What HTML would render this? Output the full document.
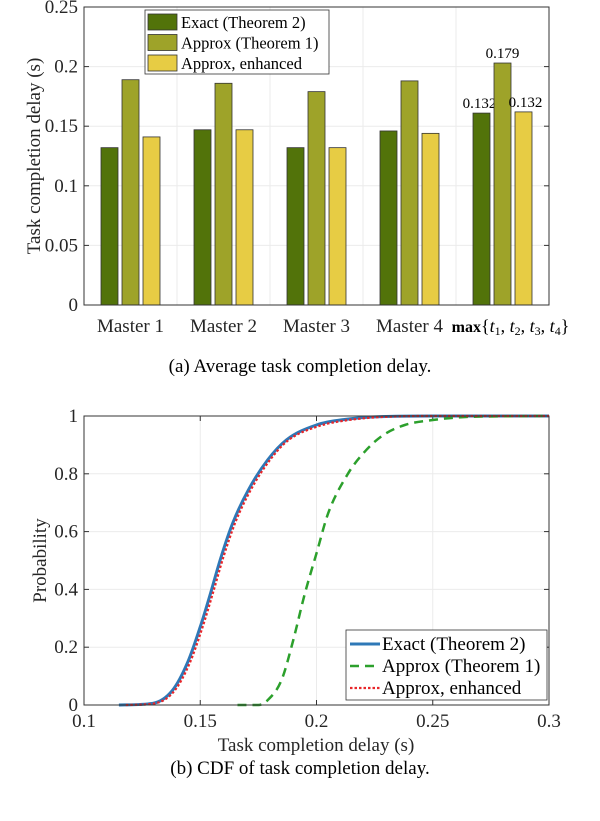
<!DOCTYPE html>
<html><head><meta charset="utf-8"><style>
body{margin:0;background:#fff;width:600px;height:816px;overflow:hidden}
svg{font-family:"Liberation Serif",serif}
</style></head><body>
<svg id="fig" width="600" height="816" viewBox="0 0 600 816" xmlns="http://www.w3.org/2000/svg"></svg>
<script>
const categories=["Master 1","Master 2","Master 3","Master 4","max"];
const exactVals=[0.132,0.147,0.132,0.146,0.161];
const approxVals=[0.189,0.186,0.179,0.188,0.203];
const enhVals=[0.141,0.147,0.132,0.144,0.162];
const maxLabels=["0.132","0.179","0.132"];
const barTicks=[0,0.05,0.1,0.15,0.2,0.25];
const barTickLabels=["0","0.05","0.1","0.15","0.2","0.25"];
const cdfExactX=[0.115,0.1296,0.138,0.1444,0.15,0.1544,0.159,0.164,0.1707,0.179,0.187,0.2,0.212,0.228,0.25,0.3];
const cdfExactY=[0,0.006,0.05,0.144,0.27,0.386,0.513,0.63,0.744,0.848,0.917,0.969,0.988,0.998,1,1];
const cdfEnhX=[0.118,0.1306,0.139,0.1454,0.151,0.1554,0.16,0.165,0.1717,0.18,0.188,0.201,0.213,0.229,0.25,0.3];
const cdfEnhY=[0,0.006,0.05,0.144,0.27,0.386,0.513,0.63,0.744,0.848,0.917,0.965,0.985,0.997,1,1];
const cdfApproxX=[0.166,0.175,0.179,0.185,0.19,0.195,0.2,0.205,0.2135,0.22,0.228,0.238,0.25,0.261,0.28,0.3];
const cdfApproxY=[0,0,0.017,0.087,0.225,0.386,0.525,0.663,0.8,0.87,0.93,0.969,0.986,0.995,0.999,1];
const cdfXTicks=[0.1,0.15,0.2,0.25,0.3];
const cdfXTickLabels=["0.1","0.15","0.2","0.25","0.3"];
const cdfYTicks=[0,0.2,0.4,0.6,0.8,1];
const cdfYTickLabels=["0","0.2","0.4","0.6","0.8","1"];

const NS="http://www.w3.org/2000/svg";
const svg=document.getElementById('fig');
function mk(tag,attrs,parent,text){const e=document.createElementNS(NS,tag);for(const k in attrs)e.setAttribute(k,attrs[k]);if(text!==undefined)e.textContent=text;(parent||svg).appendChild(e);return e;}
const FS=19;

// ---- Top bar chart
const L=84,R=549,T=7,B=305;
const yB=v=>B-(v/0.25)*(B-T);
const gw=(R-L)/categories.length;
const gx=i=>L+gw*(i+0.5);
const gTop=mk('g',{});


mk('rect',{x:L,y:T,width:R-L,height:B-T,fill:'#fff'},gTop);
barTicks.forEach((t,i)=>{
  const y=yB(t);
  if(i>0&&i<barTicks.length-1){const g=mk('line',{x1:L,x2:R,y1:y,y2:y,stroke:'#ebebeb','stroke-width':1},gTop);}
  mk('line',{x1:L,x2:L+5,y1:y,y2:y,stroke:'#333'},gTop);
  mk('line',{x1:R,x2:R-5,y1:y,y2:y,stroke:'#333'},gTop);
  const tl=mk('text',{x:L-6,y:y+6,'text-anchor':'end','font-size':FS,fill:'#262626'},gTop,barTickLabels[i]);
  
});
for(let i=1;i<categories.length;i++){const x=L+gw*i;const g=mk('line',{x1:x,x2:x,y1:T,y2:B,stroke:'#ebebeb'},gTop);}
const series=[[exactVals,'#52730a','exact'],[approxVals,'#9ea329','approx'],[enhVals,'#e7cc44','enhanced']];
const bw=17,off=21;
categories.forEach((c,i)=>{
  series.forEach((s,j)=>{
    const x=gx(i)+(j-1)*off-bw/2;const y=yB(s[0][i]);
    const r=mk('rect',{x:x,y:y,width:bw,height:B-y,fill:s[1],stroke:'#333','stroke-width':0.8},gTop);
    
    
    if(i===categories.length-1){
      const t=mk('text',{x:gx(i)+(j-1)*off+(j-1)*2,y:y-5,'text-anchor':'middle','font-size':15,fill:'#000'},gTop,maxLabels[j]);
      
    }
  });
  if(i<categories.length-1){
    const t=mk('text',{x:gx(i),y:332,'text-anchor':'middle','font-size':FS,fill:'#262626'},gTop,c);
    
  } else {
    const t=mk('text',{x:gx(i)+8,y:332,'text-anchor':'middle','font-size':18,fill:'#000'},gTop);
    
    t.innerHTML='<tspan font-weight="bold" font-size="16">max</tspan>{<tspan font-style="italic">t</tspan><tspan font-size="12" dy="3">1</tspan><tspan dy="-3">, </tspan><tspan font-style="italic">t</tspan><tspan font-size="12" dy="3">2</tspan><tspan dy="-3">, </tspan><tspan font-style="italic">t</tspan><tspan font-size="12" dy="3">3</tspan><tspan dy="-3">, </tspan><tspan font-style="italic">t</tspan><tspan font-size="12" dy="3">4</tspan><tspan dy="-3">}</tspan>';
  }
});
mk('rect',{x:L,y:T,width:R-L,height:B-T,fill:'none',stroke:'#333','stroke-width':1},gTop);
const yt=mk('text',{x:40,y:(T+B)/2,'text-anchor':'middle','font-size':FS,fill:'#262626',transform:`rotate(-90 40 ${(T+B)/2})`},gTop,'Task completion delay (s)');

const lg=mk('g',{},gTop);
mk('rect',{x:145,y:10,width:184,height:64,fill:'#fff',stroke:'#333','stroke-width':0.8},lg);
const ln=['Exact (Theorem 2)','Approx (Theorem 1)','Approx, enhanced'];
series.forEach((s,j)=>{
  const y=14+j*20.5;
  const e=mk('g',{},lg);
  mk('rect',{x:148,y:y,width:29,height:16,fill:s[1],stroke:'#333','stroke-width':0.8},e);
  mk('text',{x:181,y:y+14,'font-size':16.5,fill:'#000'},e,ln[j]);
});
const ca=mk('text',{x:300,y:372,'text-anchor':'middle','font-size':FS,fill:'#000'},svg,'(a)  Average task completion delay.');


// ---- Bottom CDF chart
const L2=84,R2=549,T2=416,B2=705;
const xC=v=>L2+(v-0.1)/0.2*(R2-L2);
const yC=v=>B2-v*(B2-T2);
const bot=mk('g',{});
cdfXTicks.forEach((t,i)=>{
  const x=xC(t);
  if(i>0&&i<cdfXTicks.length-1){const g=mk('line',{x1:x,x2:x,y1:T2,y2:B2,stroke:'#ebebeb'},bot);}
  mk('line',{x1:x,x2:x,y1:B2,y2:B2-5,stroke:'#333'},bot);
  mk('line',{x1:x,x2:x,y1:T2,y2:T2+5,stroke:'#333'},bot);
  const tl=mk('text',{x:x,y:727,'text-anchor':'middle','font-size':FS,fill:'#262626'},bot,cdfXTickLabels[i]);
  
});
cdfYTicks.forEach((t,i)=>{
  const y=yC(t);
  if(i>0&&i<cdfYTicks.length-1){const g=mk('line',{x1:L2,x2:R2,y1:y,y2:y,stroke:'#ebebeb'},bot);}
  mk('line',{x1:L2,x2:L2+5,y1:y,y2:y,stroke:'#333'},bot);
  mk('line',{x1:R2,x2:R2-5,y1:y,y2:y,stroke:'#333'},bot);
  const tl=mk('text',{x:L2-6,y:y+6,'text-anchor':'end','font-size':FS,fill:'#262626'},bot,cdfYTickLabels[i]);
  
});
function monoPath(xs,ys){
  const n=xs.length,d=[],m=new Array(n);
  for(let i=0;i<n-1;i++)d.push((ys[i+1]-ys[i])/(xs[i+1]-xs[i]));
  m[0]=d[0];m[n-1]=d[n-2];
  for(let i=1;i<n-1;i++)m[i]=(d[i-1]*d[i]<=0)?0:(d[i-1]+d[i])/2;
  for(let i=0;i<n-1;i++){if(d[i]===0){m[i]=0;m[i+1]=0;continue;}const a=m[i]/d[i],b=m[i+1]/d[i],s=a*a+b*b;if(s>9){const t=3/Math.sqrt(s);m[i]=t*a*d[i];m[i+1]=t*b*d[i];}}
  let p='M'+xs[0].toFixed(1)+' '+ys[0].toFixed(1);
  for(let i=0;i<n-1;i++){const h=(xs[i+1]-xs[i])/3;p+=` C${(xs[i]+h).toFixed(1)} ${(ys[i]+m[i]*h).toFixed(1)} ${(xs[i+1]-h).toFixed(1)} ${(ys[i+1]-m[i+1]*h).toFixed(1)} ${xs[i+1].toFixed(1)} ${ys[i+1].toFixed(1)}`;}
  return p;
}
function curve(xs,ys,col,w,dash,name){
  const d=monoPath(xs.map(xC),ys.map(yC));
  const p=mk('path',{d:d,fill:'none',stroke:col,'stroke-width':w,'stroke-dasharray':dash,'stroke-linejoin':'round'},bot);
  
}
curve(cdfExactX,cdfExactY,'#2e78b7',3,'none','line-exact');
curve(cdfApproxX,cdfApproxY,'#2ca02c',2.5,'9 6','line-approx');
curve(cdfEnhX,cdfEnhY,'#e8262a',2.2,'2.5 2','line-enhanced');
mk('rect',{x:L2,y:T2,width:R2-L2,height:B2-T2,fill:'none',stroke:'#333'},bot);
const yt2=mk('text',{x:46,y:(T2+B2)/2,'text-anchor':'middle','font-size':FS,fill:'#262626',transform:`rotate(-90 46 ${(T2+B2)/2})`},bot,'Probability');

const xt2=mk('text',{x:316,y:751,'text-anchor':'middle','font-size':FS,fill:'#262626'},bot,'Task completion delay (s)');

const lg2=mk('g',{},bot);
mk('rect',{x:346,y:630,width:201,height:70,fill:'#fff',stroke:'#333','stroke-width':0.8},lg2);
const l2=[['#2e78b7',3,'none'],['#2ca02c',2.5,'9 6'],['#e8262a',2.2,'2.5 2']];
l2.forEach((s,j)=>{
  const y=644+j*22;
  const e=mk('g',{},lg2);
  mk('line',{x1:350,x2:380,y1:y,y2:y,stroke:s[0],'stroke-width':s[1],'stroke-dasharray':s[2]},e);
  mk('text',{x:382,y:y+6,'font-size':FS,fill:'#000'},e,ln[j]);
});
const cb=mk('text',{x:300,y:774,'text-anchor':'middle','font-size':FS,fill:'#000'},svg,'(b)  CDF of task completion delay.');

</script>
</body></html>
